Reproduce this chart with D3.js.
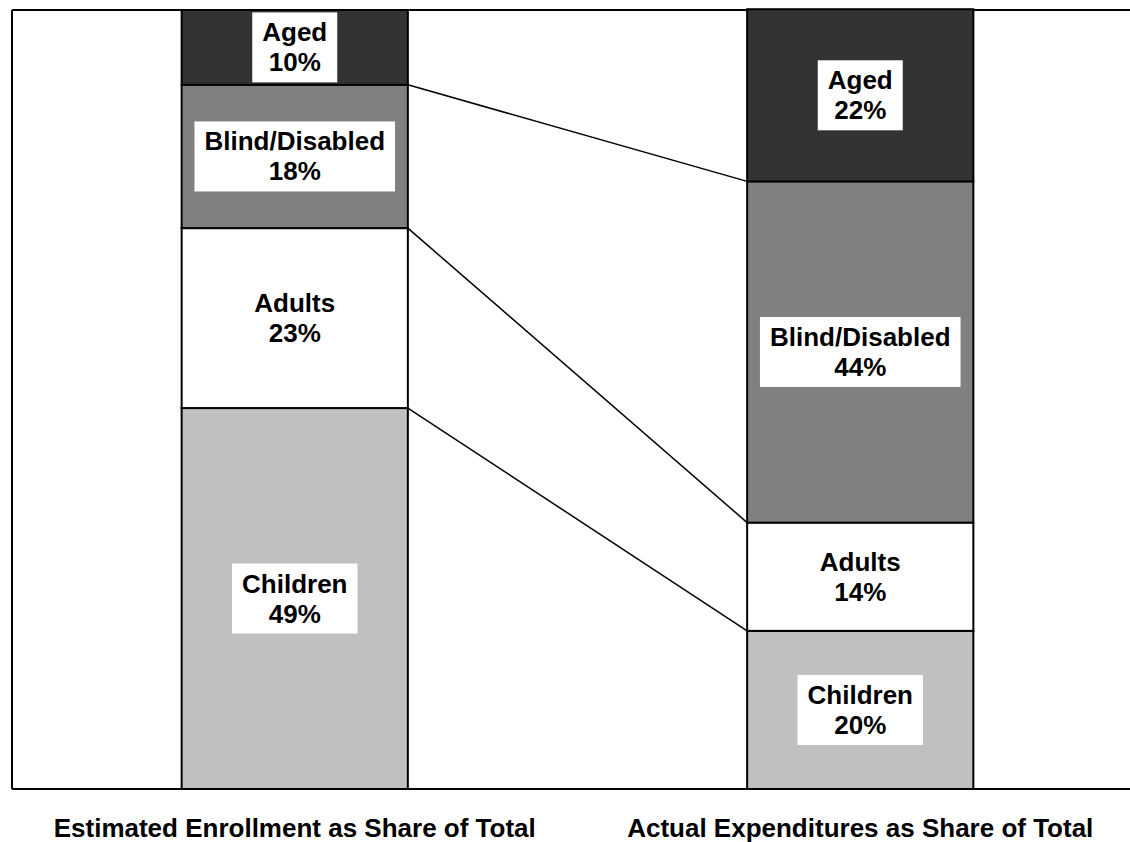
<!DOCTYPE html>
<html>
<head>
<meta charset="utf-8">
<script src="https://cdn.jsdelivr.net/npm/d3@7"></script>
<style>
  body { margin: 0; background: #fff; }
  svg { display: block; font-family: "Liberation Sans", Arial, sans-serif; }
</style>
</head>
<body>
<svg id="chart"></svg>
<script>
const categories = ["Estimated Enrollment as Share of Total", "Actual Expenditures as Share of Total"];
const groups = ["Children", "Adults", "Blind/Disabled", "Aged"];
const enrollment = [48.9, 23.1, 18.4, 9.6];
const expenditures = [20.3, 13.9, 43.8, 22.1];
const colors = ["#c0c0c0", "#ffffff", "#808080", "#333333"];

const width = 1130;
const height = 842;
const margin = { top: 10, left: 12, bottom: 53 };

const svg = d3.select("#chart").attr("width", width).attr("height", height);

const rows = categories.map((c, i) => {
  const vals = i === 0 ? enrollment : expenditures;
  const r = { cat: c };
  groups.forEach((g, j) => (r[g] = vals[j]));
  return r;
});

const series = d3.stack().keys(groups)(rows);

const x = d3
  .scaleBand()
  .domain(categories)
  .range([margin.left, 1143])
  .paddingInner(0.6)
  .paddingOuter(0.3);

const y = d3
  .scaleLinear()
  .domain([0, 100])
  .range([height - margin.bottom, margin.top]);

// frame (left, top, bottom; right side runs off the page)
const frame = svg.append("g").attr("stroke", "#000").attr("stroke-width", 2);
frame.append("line").attr("x1", margin.left).attr("x2", width).attr("y1", y(100)).attr("y2", y(100));
frame.append("line").attr("x1", margin.left).attr("x2", width).attr("y1", y(0)).attr("y2", y(0));
frame.append("line").attr("x1", margin.left).attr("x2", margin.left).attr("y1", y(100)).attr("y2", y(0));

// bars
svg
  .append("g")
  .selectAll("g")
  .data(series)
  .join("g")
  .attr("fill", (d, i) => colors[i])
  .selectAll("rect")
  .data((d) => d)
  .join("rect")
  .attr("x", (d) => x(d.data.cat))
  .attr("width", x.bandwidth())
  .attr("y", (d) => y(d[1]))
  .attr("height", (d) => y(d[0]) - y(d[1]))
  .attr("stroke", "#000")
  .attr("stroke-width", 2);

// connector lines between the stacks
svg
  .append("g")
  .selectAll("line")
  .data(series.slice(0, 3))
  .join("line")
  .attr("x1", x(categories[0]) + x.bandwidth())
  .attr("x2", x(categories[1]))
  .attr("y1", (d) => y(d[0][1]))
  .attr("y2", (d) => y(d[1][1]))
  .attr("stroke", "#000")
  .attr("stroke-width", 1.5);

// segment labels in white boxes
const labels = [];
series.forEach((s, i) => {
  s.forEach((d) => {
    labels.push({ name: groups[i], value: d[1] - d[0], cat: d.data.cat, mid: (d[0] + d[1]) / 2 });
  });
});

const lab = svg
  .append("g")
  .selectAll("g")
  .data(labels)
  .join("g")
  .attr("transform", (d) => `translate(${x(d.cat) + x.bandwidth() / 2},${y(d.mid)})`);

const box = lab.append("rect").attr("fill", "#fff");

const txt = lab
  .append("text")
  .attr("text-anchor", "middle")
  .attr("font-size", 26)
  .attr("font-weight", "bold")
  .attr("fill", "#000");
txt.append("tspan").attr("x", 0).attr("y", -6).text((d) => d.name);
txt.append("tspan").attr("x", 0).attr("y", 24).text((d) => Math.round(d.value) + "%");

box.each(function () {
  const t = d3.select(this.parentNode).select("text").node();
  const w = t.getBBox().width + 20;
  d3.select(this).attr("x", -w / 2).attr("width", w).attr("y", -35).attr("height", 70);
});

// category titles under the bars
svg
  .append("g")
  .selectAll("text")
  .data(categories)
  .join("text")
  .attr("x", (d) => x(d) + x.bandwidth() / 2)
  .attr("y", 837)
  .attr("text-anchor", "middle")
  .attr("font-size", 26)
  .attr("font-weight", "bold")
  .text((d) => d);
</script>
</body>
</html>
